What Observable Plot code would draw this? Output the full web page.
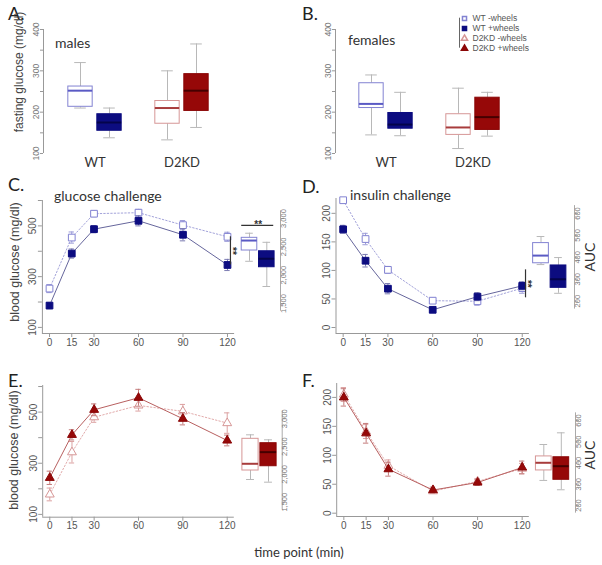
<!DOCTYPE html>
<html><head><meta charset="utf-8">
<script src="https://cdn.jsdelivr.net/npm/d3@7"></script>
<script src="https://cdn.jsdelivr.net/npm/@observablehq/plot@0.6"></script>
<style>
html,body{margin:0;padding:0;background:#fff;}
#fig{position:relative;width:602px;height:565px;overflow:hidden;background:#fff;}
#fig svg{position:absolute;overflow:visible;}
.t{position:absolute;white-space:nowrap;color:#333;font-family:Lato,"Open Sans",sans-serif;line-height:1;}
</style></head><body><div id="fig"></div>
<script>
// ---------- data ----------
const times = [0, 15, 30, 60, 90, 120];
const genotypes = ["WT", "D2KD"];
const groupNames = ["WT -wheels", "WT +wheels", "D2KD -wheels", "D2KD +wheels"];

// fasting glucose box stats: [lower whisker, Q1, median, Q3, upper whisker]
const malesWtMinus = [210, 213, 252, 262, 320];
const malesWtPlus = [138, 155, 175, 195, 210];
const malesKdMinus = [133, 172, 210, 227, 300];
const malesKdPlus = [163, 203, 252, 292, 365];
const femalesWtMinus = [145, 210, 220, 270, 290];
const femalesWtPlus = [143, 160, 170, 198, 248];
const femalesKdMinus = [112, 145, 163, 195, 258];
const femalesKdPlus = [142, 157, 188, 235, 248];
const fastingTicks = [100, 150, 200, 250, 300, 350, 400];

// glucose challenge (mean, SEM) WT
const gttWtMinus = [253, 454, 548, 552, 503, 457];
const gttWtMinusSE = [16, 22, 12, 13, 18, 18];
const gttWtPlus = [186, 391, 487, 520, 465, 346];
const gttWtPlusSE = [12, 18, 14, 20, 24, 22];
// insulin challenge WT
const ittWtMinus = [223, 155, 101, 47, 46, 69];
const ittWtMinusSE = [4, 10, 6, 5, 7, 9];
const ittWtPlus = [172, 117, 68, 31, 54, 73];
const ittWtPlusSE = [7, 11, 9, 2, 7, 7];
// glucose challenge D2KD
const gttKdMinus = [178, 343, 480, 526, 503, 457];
const gttKdMinusSE = [25, 42, 20, 22, 27, 40];
const gttKdPlus = [243, 411, 509, 556, 474, 389];
const gttKdPlusSE = [26, 20, 23, 33, 24, 21];
// insulin challenge D2KD
const ittKdMinus = [205, 141, 82, 38, 55, 77];
const ittKdMinusSE = [12, 12, 10, 4, 5, 9];
const ittKdPlus = [200, 138, 76, 40, 53, 79];
const ittKdPlusSE = [15, 17, 12, 5, 5, 11];

// AUC box stats: [lower whisker, Q1, median, Q3, upper whisker]
const gttAucWtMinus = [2245, 2435, 2611, 2659, 2740];
const gttAucWtPlus = [1800, 2140, 2290, 2422, 2580];
const ittAucWtMinus = [367, 373, 408, 465, 495];
const ittAucWtPlus = [236, 261, 300, 363, 399];
const gttAucKdMinus = [1908, 2070, 2191, 2640, 2712];
const gttAucKdPlus = [1860, 2147, 2400, 2561, 2622];
const ittAucKdMinus = [318, 365, 401, 431, 487];
const ittAucKdPlus = [274, 321, 385, 427, 542];

const gttTicks = [100, 200, 300, 400, 500, 600];
const ittTicks = [0, 50, 100, 150, 200];
const gttAucTicks = [1500, 2000, 2500, 3000];
const ittAucTicks = [200, 300, 400, 500, 600];

// significance annotations
const sigLabel = "**";
const gttSig120 = [346, 457];
const ittSig120 = [52, 101];
const gttAucSigLevel = 2880;

// ---------- styles ----------
const pal = {
  "WT -wheels":   {fill: "#ffffff", stroke: "#8383d2", med: "#5a5ac4", line: "#a3a3da", err: "#9c9cd8", symbol: "square", dash: "1.5,2"},
  "WT +wheels":   {fill: "#0c0c80", stroke: "#0c0c80", med: "#04044a", line: "#66669c", err: "#7c7cb2", symbol: "square", dash: undefined},
  "D2KD -wheels": {fill: "#ffffff", stroke: "#d69696", med: "#a83c3c", line: "#e2abab", err: "#dca2a2", symbol: "triangle", dash: "1.5,2"},
  "D2KD +wheels": {fill: "#960808", stroke: "#8a0606", med: "#450000", line: "#b86060", err: "#c47c7c", symbol: "triangle", dash: undefined}
};
const baseStyle = {background: "transparent", overflow: "visible", maxWidth: "none",
  fontFamily: "'Liberation Sans', Arial, sans-serif", color: "#555"};

const fig = document.getElementById("fig");
function place(svg, left, top) { svg.style.left = left + "px"; svg.style.top = top + "px"; fig.appendChild(svg); }
function label(text, x, y, o = {}) {
  const d = document.createElement("div");
  d.className = "t"; d.textContent = text;
  d.style.left = x + "px"; d.style.top = y + "px";
  d.style.fontSize = (o.size || 14) + "px";
  if (o.font) d.style.fontFamily = o.font;
  if (o.color) d.style.color = o.color;
  let tr = o.center ? "translate(-50%,-50%)" : "translate(0,-50%)";
  if (o.rotate) tr += ` rotate(${o.rotate}deg)`;
  d.style.transform = tr;
  fig.appendChild(d);
}

function toRows(stats, cats, posFn) {
  return stats.map((s, i) => ({cat: cats[i], pos: posFn(i), low: s[0], q1: s[1], med: s[2], q3: s[3], high: s[4]}));
}
function boxMarks(rows, hw, cap) {
  const wh = "#b8b8b8";
  return [
    Plot.ruleX(rows, {x: "pos", y1: "low", y2: "q1", stroke: wh}),
    Plot.ruleX(rows, {x: "pos", y1: "q3", y2: "high", stroke: wh}),
    Plot.ruleY(rows, {y: "low", x1: d => d.pos - cap, x2: d => d.pos + cap, stroke: wh}),
    Plot.ruleY(rows, {y: "high", x1: d => d.pos - cap, x2: d => d.pos + cap, stroke: wh}),
    Plot.rect(rows, {x1: d => d.pos - hw, x2: d => d.pos + hw, y1: "q1", y2: "q3",
      fill: d => pal[d.cat].fill, stroke: d => pal[d.cat].stroke, strokeWidth: 1}),
    Plot.ruleY(rows, {y: "med", x1: d => d.pos - hw, x2: d => d.pos + hw, stroke: d => pal[d.cat].med, strokeWidth: 2})
  ];
}

// ---------- fasting glucose panels (A, B) ----------
function fastingPanel(stats, left, axisPx, firstPx) {
  const step = 29, top = 0, height = 175, width = 300, yb = 153, yt = 29;
  const marginLeft = axisPx - left;
  const xmin = 1 - (firstPx - axisPx) / step;
  const xmax = xmin + (width - marginLeft) / step;
  const rows = toRows(stats, groupNames, i => Math.floor(i / 2) * 3 + (i % 2) + 1);
  const svg = Plot.plot({
    width, height, marginLeft, marginRight: 0, marginTop: yt - top, marginBottom: top + height - yb,
    style: baseStyle,
    x: {domain: [xmin, xmax]},
    y: {domain: [100, 400]},
    color: {type: "identity"},
    marks: [
      Plot.ruleX([xmin], {y1: 100, y2: 400, stroke: "#999"}),
      Plot.axisY({ticks: fastingTicks, tickFormat: d => d % 100 === 0 ? String(d) : "", tickSize: 3, tickPadding: 2,
        tickRotate: -90, fontSize: 8.5, fill: "#777", stroke: "#999", label: null}),
      Plot.axisX({ticks: genotypes.map((g, i) => i * 3 + 1.5), tickFormat: d => genotypes[Math.round((d - 1.5) / 3)],
        tickSize: 0, tickPadding: 4, fontSize: 13, fontFamily: "Lato, sans-serif", fill: "#333", label: null}),
      ...boxMarks(rows, 0.42, 0.2)
    ]
  });
  place(svg, left, top);
}
fastingPanel([malesWtMinus, malesWtPlus, malesKdMinus, malesKdPlus], 0, 43, 80);
fastingPanel([femalesWtMinus, femalesWtPlus, femalesKdMinus, femalesKdPlus], 300, 335, 371);

// legend
const legendSvg = Plot.plot({
  width: 120, height: 42, marginLeft: 0, marginRight: 0, marginTop: 6.7, marginBottom: 5.3,
  style: baseStyle,
  x: {domain: [0, 120], axis: null},
  y: {type: "point", domain: groupNames, padding: 0, axis: null},
  marks: [
    Plot.ruleX([4], {stroke: "#666"}),
    ...groupNames.map(g => Plot.dot([g], {x: 9, y: d => d, symbol: pal[g].symbol, r: 2.3,
      fill: pal[g].fill, stroke: pal[g].stroke})),
    Plot.text(groupNames, {x: 17, y: d => d, text: d => d, textAnchor: "start", fontSize: 8.5, fill: "#555"})
  ]
});
place(legendSvg, 455, 11);

// ---------- time-course panels (C-F) ----------
function seriesRows(vals, ses) { return times.map((t, i) => ({t, v: vals[i], e: ses[i]})); }
function lineMarks(rows, st) {
  const cw = 1.8;
  return [
    Plot.line(rows, {x: "t", y: "v", stroke: st.line, strokeWidth: 1, strokeDasharray: st.dash}),
    Plot.ruleX(rows, {x: "t", y1: d => d.v - d.e, y2: d => d.v + d.e, stroke: st.err}),
    Plot.ruleY(rows, {y: d => d.v + d.e, x1: d => d.t - cw, x2: d => d.t + cw, stroke: st.err}),
    Plot.ruleY(rows, {y: d => d.v - d.e, x1: d => d.t - cw, x2: d => d.t + cw, stroke: st.err}),
    Plot.dot(rows, {x: "t", y: "v", symbol: st.symbol, r: st.symbol === "square" ? 3.8 : 3.3,
      fill: st.fill, stroke: st.stroke, strokeWidth: 1})
  ];
}
function linePanel({left, top, width, height, xPx, yPx, yDomain, yTicks, yFmt, series, bracket}) {
  const xd = [-4.8, 124.8];
  const marks = [
    Plot.ruleX([xd[0]], {stroke: "#999"}),
    Plot.ruleY([yDomain[0]], {stroke: "#999"}),
    Plot.axisX({ticks: times, tickSize: 4, tickPadding: 1, fontSize: 10, fill: "#555", stroke: "#999", label: null}),
    Plot.axisY({ticks: yTicks, tickFormat: yFmt, tickSize: 4, tickPadding: 2, tickRotate: -90, fontSize: 10,
      fill: "#555", stroke: "#999", label: null}),
    ...series.flatMap(s => lineMarks(seriesRows(s.v, s.e), pal[s.cat]))
  ];
  if (bracket) {
    marks.push(Plot.ruleX([bracket.x], {y1: bracket.range[0], y2: bracket.range[1], stroke: "#333", strokeWidth: 1.2}));
    marks.push(Plot.text([sigLabel], {x: bracket.x + 1.3, y: (bracket.range[0] + bracket.range[1]) / 2, text: d => d,
      rotate: 90, fontSize: 10, fontWeight: "bold", fill: "#333"}));
  }
  const svg = Plot.plot({
    width, height,
    marginLeft: xPx[0] - left, marginRight: left + width - xPx[1],
    marginTop: yPx[1] - top, marginBottom: top + height - yPx[0],
    style: baseStyle,
    x: {domain: xd}, y: {domain: yDomain},
    marks
  });
  place(svg, left, top);
}
function aucPanel({left, top, width, height, c1, c2, axisPx, yDomain, yPx, ticks, stats, cats, sig}) {
  const k = c2 - c1;
  const xmin = 1 - (c1 - left) / k, xmax = 2 + (axisPx - c2) / k;
  const span = yDomain[1] - yDomain[0];
  const rows = toRows(stats, cats, i => i + 1);
  const marks = [
    Plot.ruleX([xmax], {y1: yDomain[0] - 0.09 * span, y2: yDomain[1] + 0.09 * span, stroke: "#aaa"}),
    Plot.axisY({anchor: "right", ticks, tickSize: 3, tickPadding: 2, tickRotate: -90, fontSize: 7.5,
      fill: "#777", stroke: "#aaa", label: null}),
    ...boxMarks(rows, 0.45, 0.22)
  ];
  if (sig) {
    marks.push(Plot.ruleY([sig], {y: d => d, x1: 0.55, x2: 2.4, stroke: "#333", strokeWidth: 1.2}));
    marks.push(Plot.text([sigLabel], {x: 1.5, y: sig, text: d => d, lineAnchor: "middle", dy: -1,
      fontSize: 10, fontWeight: "bold", fill: "#333"}));
  }
  const svg = Plot.plot({
    width, height, marginLeft: 0, marginRight: left + width - axisPx,
    marginTop: yPx[1] - top, marginBottom: top + height - yPx[0],
    style: baseStyle,
    x: {domain: [xmin, xmax], axis: null}, y: {domain: yDomain},
    color: {type: "identity"},
    marks
  });
  place(svg, left, top);
}

const everyOther = d => (d % 200 === 100 ? String(d) : "");

// C
linePanel({left: 0, top: 170, width: 300, height: 200, xPx: [41.9, 234.1], yPx: [333, 200],
  yDomain: [76, 600], yTicks: gttTicks, yFmt: everyOther,
  series: [{cat: "WT -wheels", v: gttWtMinus, e: gttWtMinusSE}, {cat: "WT +wheels", v: gttWtPlus, e: gttWtPlusSE}],
  bracket: {x: 122, range: gttSig120}});
aucPanel({left: 225, top: 195, width: 75, height: 120, c1: 249, c2: 266.3, axisPx: 280,
  yDomain: [1500, 3000], yPx: [303, 218], ticks: gttAucTicks,
  stats: [gttAucWtMinus, gttAucWtPlus], cats: ["WT -wheels", "WT +wheels"], sig: gttAucSigLevel});
// D
linePanel({left: 300, top: 170, width: 302, height: 200, xPx: [335.5, 528.9], yPx: [333, 198],
  yDomain: [-10.5, 226], yTicks: ittTicks, yFmt: d => String(d),
  series: [{cat: "WT -wheels", v: ittWtMinus, e: ittWtMinusSE}, {cat: "WT +wheels", v: ittWtPlus, e: ittWtPlusSE}],
  bracket: {x: 122.2, range: ittSig120}});
aucPanel({left: 520, top: 195, width: 82, height: 120, c1: 540.5, c2: 558, axisPx: 574,
  yDomain: [200, 600], yPx: [300.7, 213], ticks: ittAucTicks,
  stats: [ittAucWtMinus, ittAucWtPlus], cats: ["WT -wheels", "WT +wheels"]});
// E
linePanel({left: 0, top: 370, width: 300, height: 170, xPx: [42.2, 233.8], yPx: [516.7, 385],
  yDomain: [89, 604], yTicks: gttTicks, yFmt: everyOther,
  series: [{cat: "D2KD -wheels", v: gttKdMinus, e: gttKdMinusSE}, {cat: "D2KD +wheels", v: gttKdPlus, e: gttKdPlusSE}]});
aucPanel({left: 225, top: 395, width: 75, height: 120, c1: 250, c2: 268, axisPx: 281.7,
  yDomain: [1500, 3000], yPx: [501.7, 418.3], ticks: gttAucTicks,
  stats: [gttAucKdMinus, gttAucKdPlus], cats: ["D2KD -wheels", "D2KD +wheels"]});
// F
linePanel({left: 300, top: 370, width: 302, height: 170, xPx: [336.2, 528.8], yPx: [516, 383],
  yDomain: [-5.7, 224], yTicks: ittTicks, yFmt: d => String(d),
  series: [{cat: "D2KD -wheels", v: ittKdMinus, e: ittKdMinusSE}, {cat: "D2KD +wheels", v: ittKdPlus, e: ittKdPlusSE}]});
aucPanel({left: 520, top: 395, width: 82, height: 120, c1: 543.3, c2: 560.8, axisPx: 575,
  yDomain: [200, 600], yPx: [505, 420], ticks: ittAucTicks,
  stats: [ittAucKdMinus, ittAucKdPlus], cats: ["D2KD -wheels", "D2KD +wheels"]});

// ---------- text ----------
const lato = "Lato, 'Open Sans', sans-serif";
const arial = "'Liberation Sans', Arial, sans-serif";
[["A.", 8, 13], ["B.", 302, 13], ["C.", 8, 184], ["D.", 302, 186], ["E.", 8, 380], ["F.", 302, 380]]
  .forEach(([t, x, y]) => label(t, x, y, {size: 18, color: "#222"}));
label("males", 55, 43, {size: 14});
label("females", 348, 40, {size: 14});
label("glucose challenge", 54, 196, {size: 14});
label("insulin challenge", 350, 195, {size: 14});
label("fasting glucose (mg/dl)", 19, 72, {size: 12, font: arial, color: "#444", center: true, rotate: -90});
label("blood glucose (mg/dl)", 15, 262, {size: 12.5, font: arial, color: "#444", center: true, rotate: -90});
label("blood glucose (mg/dl)", 14, 450, {size: 12.5, font: arial, color: "#444", center: true, rotate: -90});
label("AUC", 590, 257, {size: 14, center: true, rotate: -90});
label("AUC", 590, 455, {size: 14, center: true, rotate: -90});
label("time point (min)", 299, 552, {size: 13, center: true});
</script></body></html>
